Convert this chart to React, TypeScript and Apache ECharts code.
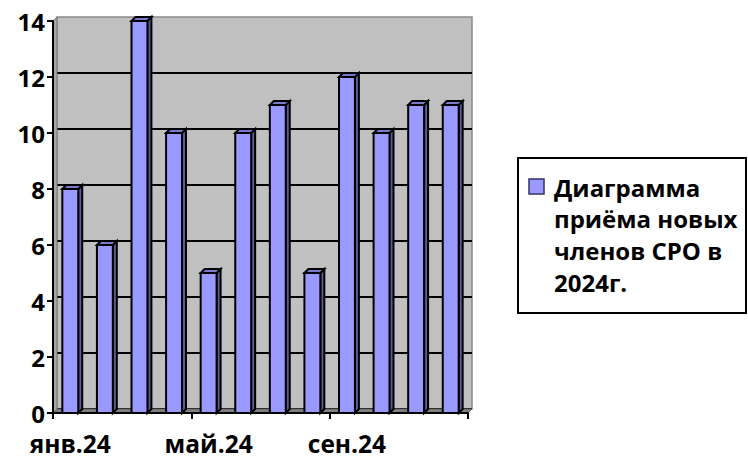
import React, { useEffect, useRef } from "react";
import * as echarts from "echarts";

const categories = ["янв.24", "фев.24", "мар.24", "апр.24", "май.24", "июн.24", "июл.24", "авг.24", "сен.24", "окт.24", "ноя.24", "дек.24"];
const values = [8, 6, 14, 10, 5, 10, 11, 5, 12, 10, 11, 11];
const seriesName = "Диаграмма приёма новых членов СРО в 2024г.";
const legendLines = ["Диаграмма", "приёма новых", "членов СРО в", "2024г."];

const FONT = "'Open Sans', 'Noto Sans', sans-serif";
const D = 4;

export default function App() {
  const ref = useRef<HTMLDivElement>(null);
  useEffect(() => {
    if (!ref.current) return;
    const chart = echarts.init(ref.current, null, { renderer: "svg" });
    const gridL = 53, gridR = 280, gridT = 21, gridB = 49;
    const option: any = {
      animation: false,
      backgroundColor: "#ffffff",
      grid: [
        { left: gridL, right: gridR, top: gridT, bottom: gridB },
        {
          left: gridL + D, right: gridR - D, top: gridT - D, bottom: gridB + D,
          show: true, backgroundColor: "#c0c0c0", borderColor: "#8a8a8a", borderWidth: 1.5, z: 0,
        },
      ],
      xAxis: [
        {
          type: "category", data: categories, gridIndex: 0, boundaryGap: true,
          axisLine: { lineStyle: { color: "#000", width: 2 } },
          axisTick: { show: true, interval: 3, length: 6, lineStyle: { color: "#000", width: 2 } },
          axisLabel: { interval: 3, color: "#000", fontSize: 24.5, lineHeight: 22, fontWeight: "bold", fontFamily: FONT, margin: 19 },
          z: 5,
        },
        { type: "category", data: categories, gridIndex: 1, show: false },
      ],
      yAxis: [
        {
          type: "value", min: 0, max: 14, interval: 2, gridIndex: 0,
          axisLine: { show: true, lineStyle: { color: "#000", width: 2 } },
          axisTick: { show: true, length: 6, lineStyle: { color: "#000", width: 2 } },
          axisLabel: { color: "#000", fontSize: 24, lineHeight: 20, fontWeight: "bold", fontFamily: FONT, margin: 8 },
          splitLine: { show: false },
          z: 5,
        },
        {
          type: "value", min: 0, max: 14, interval: 2, gridIndex: 1,
          axisLine: { show: false }, axisTick: { show: false }, axisLabel: { show: false },
          splitLine: { show: true, showMaxLine: false, lineStyle: { color: "#000", width: 2 } },
        },
      ],
      graphic: [
        {
          type: "polygon", z: 1,
          shape: { points: [[gridL, gridT], [gridL + D, gridT - D], [gridL + D, 462 - gridB - D], [gridL, 462 - gridB]] },
          style: { fill: "#a6a6a6", stroke: "#7a7a7a", lineWidth: 1 },
        },
        {
          type: "polygon", z: 1,
          shape: { points: [[gridL, 462 - gridB], [gridL + D, 462 - gridB - D], [748 - gridR + D, 462 - gridB - D], [748 - gridR, 462 - gridB]] },
          style: { fill: "#808080", stroke: "#606060", lineWidth: 1 },
        },
        {
          type: "rect", z: 10,
          shape: { x: 518, y: 158, width: 228, height: 155 },
          style: { fill: "#fff", stroke: "#000", lineWidth: 2 },
        },
        {
          type: "rect", z: 11,
          shape: { x: 529, y: 179, width: 15, height: 15 },
          style: { fill: "#9999ff", stroke: "#333366", lineWidth: 1.5 },
        },
        ...legendLines.map((t, i) => ({
          type: "text", z: 11, x: 554, y: 187 + i * 31.7,
          style: { text: t, fill: "#000", font: `bold 24px ${FONT}`, verticalAlign: "middle" },
        })),
      ],
      series: [
        {
          name: seriesName,
          type: "custom",
          xAxisIndex: 0, yAxisIndex: 0,
          z: 4,
          encode: { x: 0, y: 1 },
          data: values.map((v, i) => [i, v]),
          renderItem: (params: any, api: any) => {
            const idx = api.value(0);
            const v = api.value(1);
            const top = api.coord([idx, v]);
            const base = api.coord([idx, 0]);
            const w = api.size([1, 0])[0] * 0.46;
            const x0 = top[0] - w / 2, x1 = top[0] + w / 2;
            const yT = top[1], yB = base[1];
            const lw = 2;
            return {
              type: "group",
              children: [
                {
                  type: "polygon",
                  shape: { points: [[x1, yT], [x1 + D, yT - D], [x1 + D, yB - D], [x1, yB]] },
                  style: { fill: "#5c5c99", stroke: "#000", lineWidth: lw },
                },
                {
                  type: "polygon",
                  shape: { points: [[x0, yT], [x0 + D, yT - D], [x1 + D, yT - D], [x1, yT]] },
                  style: { fill: "#7a7acc", stroke: "#000", lineWidth: lw },
                },
                {
                  type: "rect",
                  shape: { x: x0, y: yT, width: w, height: yB - yT },
                  style: { fill: "#9999ff", stroke: "#000", lineWidth: lw },
                },
              ],
            };
          },
        },
      ],
    };
    chart.setOption(option);
    return () => chart.dispose();
  }, []);
  return <div ref={ref} style={{ position: "fixed", left: 0, top: 0, width: 748, height: 462 }} />;
}
